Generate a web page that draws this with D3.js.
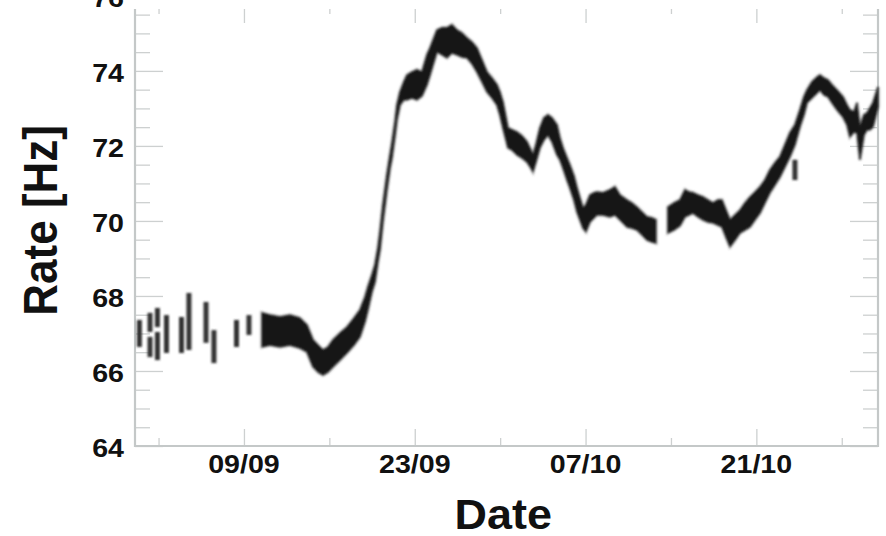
<!DOCTYPE html>
<html>
<head>
<meta charset="utf-8">
<script src="https://cdn.jsdelivr.net/npm/d3@7"></script>
<style>
  body { margin: 0; background: #fff; }
  svg text { font-family: "Liberation Sans", Arial, Helvetica, sans-serif; font-weight: bold; fill: #111; }
</style>
</head>
<body>
<div id="chart"></div>
<script>
// rate vs date
// time is in days since 2012-09-01 00:00 (UTC)

const width = 886, height = 536;
const margin = {top: 9, right: 8, bottom: 90, left: 135};

const xDomainDays = [-0.93, 59.97];
const yDomain = [64, 75.65];
const yTickLabels = [64, 66, 68, 70, 72, 74, 76];
const xMajorDates = ["2012-09-09", "2012-09-23", "2012-10-07", "2012-10-21"];
const xMinorDates = ["2012-09-02", "2012-09-16", "2012-09-30", "2012-10-14", "2012-10-28"];

// isolated runs at the start (and one stray run late October)
const dashT  = [-0.57, 0.30, 0.30, 0.91, 0.91, 1.65, 2.88, 3.49, 4.89, 5.54, 7.39, 8.41, 53.16];
const dashHi = [67.36, 67.55, 66.91, 67.68, 67.04, 67.49, 67.44, 68.08, 67.84, 67.09, 67.36, 67.49, 71.63];
const dashLo = [66.64, 67.04, 66.37, 67.17, 66.29, 66.48, 66.48, 66.56, 66.75, 66.21, 66.64, 66.96, 71.09];

// continuous band (null = no data)
const bandT = [
  9.48, 10.13, 10.95, 11.77, 12.59, 13.16, 13.66, 14.07, 14.48, 14.89, 15.30, 15.87, 16.44, 17.02, 17.51,
  17.92, 18.16, 18.49, 18.74, 18.98, 19.15, 19.39, 19.72, 19.97, 20.13, 20.38, 20.54, 20.79, 21.11, 21.36,
  21.77, 22.18, 22.59, 23.00, 23.25, 23.57, 23.82, 24.23, 24.64, 25.05, 25.46, 25.87, 26.28, 26.69, 27.10,
  27.51, 27.92, 28.33, 28.74, 28.98, 29.23, 29.48, 29.64, 29.97, 30.38, 30.79, 31.20, 31.52, 31.69, 31.93,
  32.26, 32.59, 32.92, 33.25, 33.66, 33.90, 34.15, 34.48, 34.72, 35.05, 35.30, 35.54, 35.79, 36.03, 36.36,
  36.69, 36.93, 37.43, 38.00, 38.41, 38.82, 39.39, 39.80, 40.21, 40.62, 41.03, 41.44, 41.77, 42.20, 42.75,
  43.25, 43.74, 44.15, 44.48, 44.80, 45.21, 45.62, 46.03, 46.44, 46.85, 47.18, 47.51, 47.84, 48.25, 48.66,
  49.07, 49.48, 49.89, 50.30, 50.70, 51.11, 51.52, 51.93, 52.34, 52.75, 53.16, 53.57, 53.90, 54.15, 54.56,
  54.98, 55.21, 55.54, 55.87, 56.20, 56.61, 57.10, 57.43, 57.67, 58.00, 58.25, 58.49, 58.82, 59.07, 59.31,
  59.56, 59.97
];
const bandHi = [
  67.55, 67.49, 67.44, 67.49, 67.41, 67.23, 66.83, 66.69, 66.56, 66.64, 66.83, 67.01, 67.17, 67.41, 67.63,
  67.97, 68.24, 68.56, 68.83, 69.28, 69.71, 70.43, 71.23, 71.76, 72.08, 72.64, 73.09, 73.44, 73.71, 73.89,
  73.97, 74.03, 73.97, 74.43, 74.61, 74.88, 75.09, 75.15, 75.15, 75.23, 75.09, 75.01, 74.88, 74.77, 74.61,
  74.29, 73.97, 73.81, 73.63, 73.44, 73.17, 72.75, 72.48, 72.43, 72.37, 72.27, 72.11, 71.89, 71.76, 72.03,
  72.48, 72.75, 72.83, 72.75, 72.56, 72.21, 71.95, 71.68, 71.49, 71.20, 70.88, 70.61, 70.35, 70.43, 70.69,
  70.75, 70.77, 70.75, 70.83, 70.91, 70.69, 70.56, 70.48, 70.37, 70.24, 70.11, 70.08, 70.03, null, 70.37,
  70.48, 70.56, 70.83, 70.77, 70.75, 70.69, 70.64, 70.56, 70.48, 70.56, 70.56, 70.29, 70.03, 70.16, 70.29,
  70.48, 70.64, 70.77, 70.91, 71.09, 71.36, 71.55, 71.71, 72.03, 72.35, 72.56, 72.96, 73.31, 73.49, 73.71,
  73.84, 73.89, 73.81, 73.76, 73.63, 73.49, 73.31, 73.09, 72.96, 72.91, 73.15, 72.51, 72.83, 72.88, 73.01,
  73.15, 73.57
];
const bandLo = [
  66.64, 66.69, 66.64, 66.69, 66.61, 66.51, 66.11, 65.97, 65.89, 65.97, 66.11, 66.29, 66.48, 66.69, 66.91,
  67.31, 67.63, 68.11, 68.37, 68.91, 69.23, 69.97, 70.83, 71.41, 71.68, 72.27, 72.69, 73.09, 73.23, 73.23,
  73.28, 73.23, 73.33, 73.63, 73.89, 74.24, 74.51, 74.43, 74.35, 74.48, 74.43, 74.37, 74.35, 74.19, 73.97,
  73.71, 73.44, 73.28, 73.09, 72.83, 72.48, 72.16, 71.95, 71.89, 71.76, 71.68, 71.57, 71.41, 71.31, 71.57,
  71.95, 72.16, 72.29, 72.11, 71.76, 71.63, 71.41, 71.09, 70.88, 70.56, 70.24, 70.03, 69.81, 69.71, 69.97,
  70.08, 70.16, 70.16, 70.11, 70.16, 70.03, 69.84, 69.81, 69.76, 69.63, 69.49, 69.44, 69.41, null, 69.68,
  69.76, 69.87, 70.11, 70.16, 70.21, 70.11, 70.03, 69.97, 69.95, 69.89, 69.84, 69.57, 69.31, 69.49, 69.68,
  69.76, 69.84, 70.03, 70.21, 70.48, 70.75, 70.96, 71.17, 71.44, 71.71, 72.03, 72.51, 72.83, 73.15, 73.28,
  73.41, 73.49, 73.36, 73.31, 73.15, 72.96, 72.77, 72.56, 72.24, 72.37, 72.35, 71.63, 72.29, 72.43, 72.43,
  72.51, 73.04
];

const base = Date.UTC(2012, 8, 1);
const dayToDate = (t) => new Date(base + t * 864e5);
const parseDay = d3.utcParse("%Y-%m-%d");

const svg = d3.select("#chart")
  .append("svg")
  .attr("width", width)
  .attr("height", height);

const defs = svg.append("defs");
defs.append("filter").attr("id", "soft")
  .append("feGaussianBlur").attr("stdDeviation", 0.8);

const x = d3.scaleUtc()
  .domain(xDomainDays.map(dayToDate))
  .range([margin.left, width - margin.right]);

const y = d3.scaleLinear()
  .domain(yDomain)
  .range([height - margin.bottom, margin.top]);

const x0 = margin.left, x1 = width - margin.right;
const y0 = height - margin.bottom, y1 = margin.top;

// ticks
const yMajor = yTickLabels.filter(v => v <= yDomain[1]);
const yMinor = d3.range(64.5, yDomain[1], 0.5).filter(v => v % 2 !== 0);
const xMajor = xMajorDates.map(parseDay);
const xMinor = xMinorDates.map(parseDay);

const tickColor = "#cdd0d0";

function tickGroup(axis, tx, ty) {
  svg.append("g")
    .attr("transform", `translate(${tx},${ty})`)
    .attr("color", tickColor)
    .call(axis.tickFormat(""))
    .call(g => g.select(".domain").remove())
    .call(g => g.selectAll("line").attr("stroke-width", 1.3));
}

tickGroup(d3.axisLeft(y).tickValues(yMajor).tickSize(-28), x0, 0);
tickGroup(d3.axisLeft(y).tickValues(yMinor).tickSize(-15), x0, 0);
tickGroup(d3.axisRight(y).tickValues(yMajor).tickSize(-28), x1, 0);
tickGroup(d3.axisRight(y).tickValues(yMinor).tickSize(-15), x1, 0);
tickGroup(d3.axisBottom(x).tickValues(xMajor).tickSize(-17), 0, y0);
tickGroup(d3.axisBottom(x).tickValues(xMinor).tickSize(-8), 0, y0);
tickGroup(d3.axisTop(x).tickValues(xMajor).tickSize(-14), 0, y1);
tickGroup(d3.axisTop(x).tickValues(xMinor).tickSize(-5), 0, y1);

// frame (left, bottom, right)
svg.append("path")
  .attr("d", `M${x0},${y1}V${y0}H${x1}V${y1}`)
  .attr("fill", "none")
  .attr("stroke", "#c4c8c8")
  .attr("stroke-width", 2.2);

// data
const gData = svg.append("g").attr("filter", "url(#soft)");

const area = d3.area()
  .defined((d, i) => bandHi[i] != null)
  .x((d, i) => x(dayToDate(bandT[i])))
  .y0((d, i) => y(bandLo[i]))
  .y1((d, i) => y(bandHi[i]));

// soft grey fringe, then the dark core
gData.append("path")
  .datum(bandT)
  .attr("d", area)
  .attr("fill", "none")
  .attr("stroke", "#555")
  .attr("stroke-opacity", 0.55)
  .attr("stroke-width", 3);

gData.append("path")
  .datum(bandT)
  .attr("d", area)
  .attr("fill", "#161616")
  .attr("stroke", "#161616")
  .attr("stroke-width", 0.8);

gData.selectAll("rect.dash")
  .data(dashT)
  .enter()
  .append("rect")
  .attr("class", "dash")
  .attr("x", (d) => x(dayToDate(d)) - 2.5)
  .attr("width", 5)
  .attr("y", (d, i) => y(dashHi[i]))
  .attr("height", (d, i) => y(dashLo[i]) - y(dashHi[i]))
  .attr("fill", "#333");

// tick labels
svg.selectAll("text.ylab")
  .data(yTickLabels)
  .enter()
  .append("text")
  .attr("class", "ylab")
  .attr("transform", (d) => `translate(124,${y(d) + 2}) scale(1.1,1)`)
  .attr("text-anchor", "end")
  .attr("dominant-baseline", "central")
  .attr("font-size", "26px")
  .text((d) => d);

const fmt = d3.utcFormat("%d/%m");
svg.selectAll("text.xlab")
  .data(xMajor)
  .enter()
  .append("text")
  .attr("class", "xlab")
  .attr("transform", (d) => `translate(${x(d)},473) scale(1.1,1)`)
  .attr("text-anchor", "middle")
  .attr("font-size", "26px")
  .text((d) => fmt(d));

// axis titles
svg.append("text")
  .attr("transform", "translate(552,529) scale(1.07,1)")
  .attr("text-anchor", "end")
  .attr("font-size", "42px")
  .text("Date");

svg.append("text")
  .attr("transform", "translate(57,125) rotate(-90) scale(1,1.1)")
  .attr("text-anchor", "end")
  .attr("font-size", "44px")
  .text("Rate [Hz]");
</script>
</body>
</html>
